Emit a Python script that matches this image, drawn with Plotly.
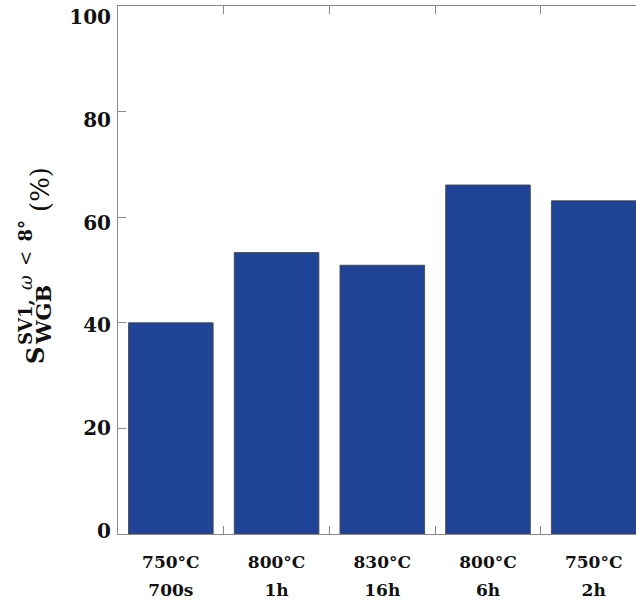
import plotly.graph_objects as go

temps = ["750°C", "800°C", "830°C", "800°C", "750°C"]
times = ["700s", "1h", "16h", "6h", "2h"]
values = [40.0, 53.3, 50.9, 66.1, 63.1]
labels = [f"{t} {d}" for t, d in zip(temps, times)]
y_ticks = [0, 20, 40, 60, 80, 100]

W, H = 636, 601
ML, MR, MT, MB = 118, 0, 6, 67
PW, PH = W - ML - MR, H - MT - MB

def px(xp):
    return (xp - ML) / PW

def py(yp):
    return (MT + PH - yp) / PH

serif = "DejaVu Serif"
axis_col = "#8a8a8a"
bold_font = lambda s: dict(family=serif, size=s, color="#111", weight="bold")

fig = go.Figure()
fig.add_trace(go.Bar(
    x=labels, y=values,
    marker=dict(color="rgb(31,67,151)", line=dict(color="rgba(70,70,70,0.9)", width=1)),
    showlegend=False, hoverinfo="skip",
))
# invisible helper trace so the label-only axes (x2: durations, y2: y labels) are drawn
fig.add_trace(go.Scatter(
    x=[0], y=[0], xaxis="x2", yaxis="y2", mode="markers",
    marker=dict(opacity=0), showlegend=False, hoverinfo="skip",
))

fig.update_layout(
    width=W, height=H,
    margin=dict(l=ML, r=MR, t=MT, b=MB, pad=0, autoexpand=False),
    paper_bgcolor="white", plot_bgcolor="white",
    bargap=0.2,
    xaxis=dict(
        type="category", categoryorder="array", categoryarray=labels,
        range=[-0.5, 4.4],
        tickmode="array", tickvals=labels, ticktext=temps,
        tickson="boundaries", ticks="inside", ticklen=8, tickcolor=axis_col,
        showline=True, linecolor=axis_col, linewidth=1, mirror="ticks",
        showgrid=False, zeroline=False,
        tickfont=bold_font(17), ticklabeloverflow="allow",
        ticklabelstandoff=13,
    ),
    xaxis2=dict(
        overlaying="x", anchor="y", side="bottom",
        range=[-0.5, 4.4], tickmode="array", tickvals=[0, 1, 2, 3, 4], ticktext=times,
        ticks="", showline=False, showgrid=False, zeroline=False,
        tickfont=bold_font(17), ticklabeloverflow="allow",
        ticklabelstandoff=44,
    ),
    yaxis=dict(
        range=[0, 100], tickmode="array", tickvals=y_ticks,
        ticks="inside", ticklen=8, tickcolor=axis_col,
        showline=True, linecolor=axis_col, linewidth=1, mirror=False,
        showgrid=False, zeroline=False, showticklabels=False,
    ),
    yaxis2=dict(
        overlaying="y", anchor="x", side="left",
        range=[-0.62, 102.14], tickmode="array", tickvals=y_ticks,
        ticks="", showline=False, showgrid=False, zeroline=False,
        tickfont=bold_font(20), ticklabeloverflow="allow",
        ticklabelstandoff=6,
    ),
)

# y-axis title built from rotated text pieces (stacked super/subscript)
fig.add_annotation(text="<b>S</b>", x=px(35), y=py(356), xref="paper", yref="paper",
                   showarrow=False, textangle=-90, xanchor="center", yanchor="middle",
                   font=dict(family=serif, size=24, color="#111"))
fig.add_annotation(text="<b>SV1,</b>\u2009 <i>ω</i>\u2009 &lt;\u2009 <b>8°</b>", x=px(25), y=py(283), xref="paper", yref="paper",
                   showarrow=False, textangle=-90, xanchor="center", yanchor="middle",
                   font=dict(family=serif, size=18, color="#111"))
fig.add_annotation(text="<b>WGB</b>", x=px(43), y=py(315), xref="paper", yref="paper",
                   showarrow=False, textangle=-90, xanchor="center", yanchor="middle",
                   font=dict(family=serif, size=21, color="#111"))
fig.add_annotation(text="(%)", x=px(40), y=py(190), xref="paper", yref="paper",
                   showarrow=False, textangle=-90, xanchor="center", yanchor="middle",
                   font=dict(family=serif, size=26, color="#111"))

fig.write_html(
    "out.html",
    config={"displayModeBar": False},
    post_script="document.body.style.margin='0';document.body.style.overflow='hidden';",
)
